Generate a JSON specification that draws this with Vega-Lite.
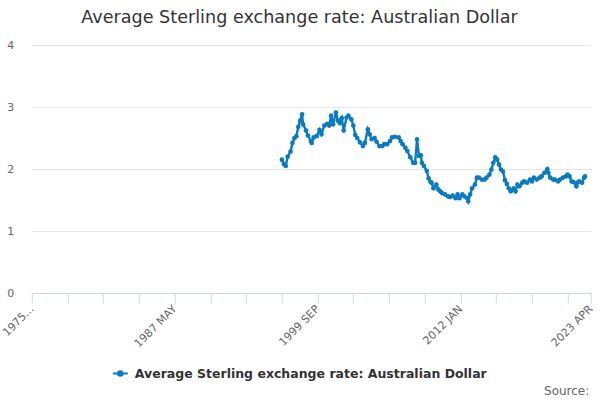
{
  "$schema": "https://vega.github.io/schema/vega-lite/v6.json",
  "autosize": "none",
  "width": 559,
  "height": 248,
  "padding": {"left": 31.8, "top": 45, "right": 9.2, "bottom": 107},
  "background": "white",
  "config": {
    "font": "DejaVu Sans",
    "view": {"stroke": null}
  },
  "title": {
    "text": "Average Sterling exchange rate: Australian Dollar",
    "fontSize": 17.6,
    "fontWeight": "normal",
    "color": "#333333",
    "anchor": "middle",
    "baseline": "alphabetic",
    "offset": -2,
    "dx": -11.8
  },
  "data": {
    "values": [
      {"date": "1996-08-01", "rate": 2.15},
      {"date": "1996-10-01", "rate": 2.08},
      {"date": "1996-12-01", "rate": 2.05},
      {"date": "1997-02-01", "rate": 2.20},
      {"date": "1997-05-01", "rate": 2.28},
      {"date": "1997-07-01", "rate": 2.42},
      {"date": "1997-09-01", "rate": 2.50},
      {"date": "1997-11-01", "rate": 2.53},
      {"date": "1998-01-01", "rate": 2.68},
      {"date": "1998-03-01", "rate": 2.78},
      {"date": "1998-05-01", "rate": 2.88},
      {"date": "1998-06-01", "rate": 2.72},
      {"date": "1998-09-01", "rate": 2.62},
      {"date": "1998-11-01", "rate": 2.54},
      {"date": "1999-02-01", "rate": 2.45},
      {"date": "1999-03-01", "rate": 2.42},
      {"date": "1999-05-01", "rate": 2.51},
      {"date": "1999-08-01", "rate": 2.53},
      {"date": "1999-11-01", "rate": 2.63},
      {"date": "2000-01-01", "rate": 2.56},
      {"date": "2000-04-01", "rate": 2.70},
      {"date": "2000-07-01", "rate": 2.73},
      {"date": "2000-09-01", "rate": 2.70},
      {"date": "2000-11-01", "rate": 2.86},
      {"date": "2001-01-01", "rate": 2.72},
      {"date": "2001-04-01", "rate": 2.91},
      {"date": "2001-06-01", "rate": 2.78},
      {"date": "2001-08-01", "rate": 2.74},
      {"date": "2001-10-01", "rate": 2.82},
      {"date": "2001-12-01", "rate": 2.62},
      {"date": "2002-03-01", "rate": 2.83},
      {"date": "2002-05-01", "rate": 2.86},
      {"date": "2002-08-01", "rate": 2.80},
      {"date": "2002-10-01", "rate": 2.70},
      {"date": "2002-12-01", "rate": 2.55},
      {"date": "2003-02-01", "rate": 2.50},
      {"date": "2003-05-01", "rate": 2.43},
      {"date": "2003-08-01", "rate": 2.37},
      {"date": "2003-10-01", "rate": 2.42},
      {"date": "2004-01-01", "rate": 2.64},
      {"date": "2004-03-01", "rate": 2.56},
      {"date": "2004-05-01", "rate": 2.48},
      {"date": "2004-08-01", "rate": 2.50},
      {"date": "2004-10-01", "rate": 2.44},
      {"date": "2005-01-01", "rate": 2.37},
      {"date": "2005-04-01", "rate": 2.37},
      {"date": "2005-06-01", "rate": 2.40},
      {"date": "2005-09-01", "rate": 2.40},
      {"date": "2005-12-01", "rate": 2.45},
      {"date": "2006-02-01", "rate": 2.51},
      {"date": "2006-05-01", "rate": 2.52},
      {"date": "2006-09-01", "rate": 2.51},
      {"date": "2006-11-01", "rate": 2.45},
      {"date": "2007-01-01", "rate": 2.40},
      {"date": "2007-04-01", "rate": 2.34},
      {"date": "2007-06-01", "rate": 2.29},
      {"date": "2007-09-01", "rate": 2.19},
      {"date": "2007-12-01", "rate": 2.10},
      {"date": "2008-02-01", "rate": 2.10},
      {"date": "2008-04-01", "rate": 2.48},
      {"date": "2008-06-01", "rate": 2.21},
      {"date": "2008-08-01", "rate": 2.22},
      {"date": "2008-09-01", "rate": 2.10},
      {"date": "2008-11-01", "rate": 2.05},
      {"date": "2009-02-01", "rate": 1.97},
      {"date": "2009-04-01", "rate": 1.85},
      {"date": "2009-06-01", "rate": 1.79},
      {"date": "2009-07-01", "rate": 1.78},
      {"date": "2009-09-01", "rate": 1.69},
      {"date": "2009-12-01", "rate": 1.75},
      {"date": "2010-02-01", "rate": 1.67},
      {"date": "2010-04-01", "rate": 1.64},
      {"date": "2010-06-01", "rate": 1.61},
      {"date": "2010-09-01", "rate": 1.59},
      {"date": "2010-12-01", "rate": 1.56},
      {"date": "2011-02-01", "rate": 1.55},
      {"date": "2011-05-01", "rate": 1.57},
      {"date": "2011-08-01", "rate": 1.53},
      {"date": "2011-10-01", "rate": 1.59},
      {"date": "2011-12-01", "rate": 1.53},
      {"date": "2012-03-01", "rate": 1.59},
      {"date": "2012-05-01", "rate": 1.56},
      {"date": "2012-08-01", "rate": 1.53},
      {"date": "2012-09-01", "rate": 1.48},
      {"date": "2012-11-01", "rate": 1.59},
      {"date": "2013-01-01", "rate": 1.69},
      {"date": "2013-04-01", "rate": 1.75},
      {"date": "2013-06-01", "rate": 1.86},
      {"date": "2013-08-01", "rate": 1.86},
      {"date": "2013-11-01", "rate": 1.83},
      {"date": "2014-02-01", "rate": 1.83},
      {"date": "2014-04-01", "rate": 1.86},
      {"date": "2014-07-01", "rate": 1.91},
      {"date": "2014-09-01", "rate": 1.99},
      {"date": "2014-11-01", "rate": 2.10},
      {"date": "2015-01-01", "rate": 2.19},
      {"date": "2015-03-01", "rate": 2.15},
      {"date": "2015-05-01", "rate": 2.07},
      {"date": "2015-07-01", "rate": 1.99},
      {"date": "2015-09-01", "rate": 1.96},
      {"date": "2015-11-01", "rate": 1.82},
      {"date": "2016-01-01", "rate": 1.76},
      {"date": "2016-03-01", "rate": 1.69},
      {"date": "2016-05-01", "rate": 1.64},
      {"date": "2016-08-01", "rate": 1.69},
      {"date": "2016-10-01", "rate": 1.64},
      {"date": "2016-12-01", "rate": 1.75},
      {"date": "2017-02-01", "rate": 1.72},
      {"date": "2017-05-01", "rate": 1.78},
      {"date": "2017-07-01", "rate": 1.80},
      {"date": "2017-10-01", "rate": 1.78},
      {"date": "2018-01-01", "rate": 1.83},
      {"date": "2018-03-01", "rate": 1.80},
      {"date": "2018-05-01", "rate": 1.86},
      {"date": "2018-08-01", "rate": 1.83},
      {"date": "2018-11-01", "rate": 1.86},
      {"date": "2019-01-01", "rate": 1.88},
      {"date": "2019-04-01", "rate": 1.94},
      {"date": "2019-07-01", "rate": 2.00},
      {"date": "2019-08-01", "rate": 1.94},
      {"date": "2019-10-01", "rate": 1.86},
      {"date": "2020-01-01", "rate": 1.83},
      {"date": "2020-03-01", "rate": 1.83},
      {"date": "2020-06-01", "rate": 1.80},
      {"date": "2020-08-01", "rate": 1.83},
      {"date": "2020-11-01", "rate": 1.86},
      {"date": "2021-02-01", "rate": 1.88},
      {"date": "2021-04-01", "rate": 1.91},
      {"date": "2021-06-01", "rate": 1.88},
      {"date": "2021-08-01", "rate": 1.80},
      {"date": "2021-10-01", "rate": 1.79},
      {"date": "2022-01-01", "rate": 1.72},
      {"date": "2022-02-01", "rate": 1.78},
      {"date": "2022-04-01", "rate": 1.80},
      {"date": "2022-07-01", "rate": 1.78},
      {"date": "2022-09-01", "rate": 1.86},
      {"date": "2022-10-01", "rate": 1.88}
    ]
  },
  "mark": {
    "type": "line",
    "strokeWidth": 2.4,
    "point": {"filled": true, "size": 22}
  },
  "encoding": {
    "x": {
      "field": "date",
      "type": "temporal",
      "scale": {
        "domain": [
          {"year": 1975, "month": 1, "date": 1},
          {"year": 2023, "month": 4, "date": 1}
        ]
      },
      "axis": {
        "values": [
          {"year": 1975, "month": 1, "date": 1},
          {"year": 1978, "month": 2, "date": 1},
          {"year": 1981, "month": 3, "date": 1},
          {"year": 1984, "month": 4, "date": 1},
          {"year": 1987, "month": 5, "date": 1},
          {"year": 1990, "month": 6, "date": 1},
          {"year": 1993, "month": 7, "date": 1},
          {"year": 1996, "month": 8, "date": 1},
          {"year": 1999, "month": 9, "date": 1},
          {"year": 2002, "month": 10, "date": 1},
          {"year": 2005, "month": 11, "date": 1},
          {"year": 2008, "month": 12, "date": 1},
          {"year": 2012, "month": 1, "date": 1},
          {"year": 2015, "month": 2, "date": 1},
          {"year": 2018, "month": 3, "date": 1},
          {"year": 2021, "month": 4, "date": 1},
          {"year": 2023, "month": 4, "date": 1}
        ],
        "labelExpr": "timeFormat(datum.value, '%Y-%m') == '1975-01' ? '1975...' : (indexof(['1987-05', '1999-09', '2012-01', '2023-04'], timeFormat(datum.value, '%Y-%m')) >= 0 ? timeFormat(datum.value, '%Y') + ' ' + upper(timeFormat(datum.value, '%b')) : '')",
        "labelAngle": -45,
        "labelAlign": "right",
        "labelBaseline": "middle",
        "labelFontSize": 11,
        "labelColor": "#666666",
        "labelPadding": 4,
        "labelOverlap": false,
        "labelFlush": false,
        "grid": false,
        "domainColor": "#ccd6eb",
        "tickColor": "#ccd6eb",
        "tickSize": 10,
        "title": "Source:",
        "titleX": 557,
        "titleY": 101,
        "titleAlign": "right",
        "titleBaseline": "alphabetic",
        "titleFontSize": 12,
        "titleFontWeight": "normal",
        "titleColor": "#666666"
      }
    },
    "y": {
      "field": "rate",
      "type": "quantitative",
      "scale": {"domain": [0, 4], "nice": false},
      "axis": {
        "values": [0, 1, 2, 3, 4],
        "title": null,
        "domain": false,
        "ticks": false,
        "gridColor": "#e6e6e6",
        "labelFontSize": 11,
        "labelColor": "#666666",
        "labelPadding": 18
      }
    },
    "color": {
      "datum": "Average Sterling exchange rate: Australian Dollar",
      "scale": {"range": ["#0b7bc1"]},
      "legend": {
        "title": null,
        "orient": "none",
        "legendX": 80,
        "legendY": 320,
        "symbolType": "M-1,0L1,0M-0.3,0A0.3,0.3 0 1,1 0.3,0A0.3,0.3 0 1,1 -0.3,0Z",
        "symbolSize": 225,
        "symbolStrokeWidth": 2,
        "symbolFillColor": "#0b7bc1",
        "labelFontSize": 12.5,
        "labelFontWeight": "bold",
        "labelColor": "#333333",
        "labelOffset": 6,
        "labelLimit": 0
      }
    }
  }
}
